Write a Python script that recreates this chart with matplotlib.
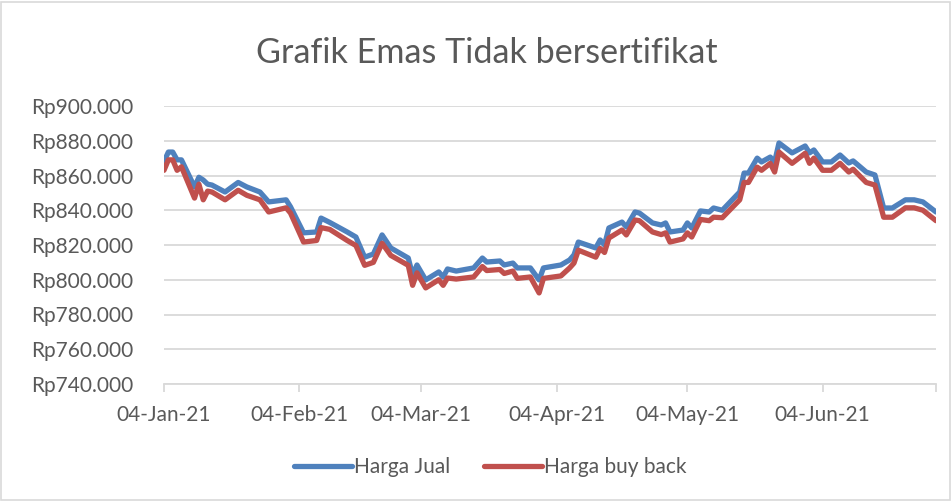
import matplotlib
matplotlib.use("Agg")
import matplotlib.pyplot as plt
import matplotlib.dates as mdates
import matplotlib.ticker as mticker
import pandas as pd
from matplotlib.patches import Rectangle

# data (Rupiah)
dates = [
    "2021-01-04", "2021-01-05", "2021-01-06", "2021-01-07", "2021-01-08",
    "2021-01-11", "2021-01-12", "2021-01-13", "2021-01-14", "2021-01-15",
    "2021-01-18", "2021-01-21", "2021-01-23", "2021-01-26", "2021-01-28",
    "2021-02-01", "2021-02-02", "2021-02-05", "2021-02-08", "2021-02-09",
    "2021-02-11", "2021-02-15", "2021-02-17", "2021-02-19", "2021-02-21",
    "2021-02-23", "2021-02-25", "2021-03-01", "2021-03-02", "2021-03-03",
    "2021-03-05", "2021-03-08", "2021-03-09", "2021-03-10", "2021-03-12",
    "2021-03-16", "2021-03-18", "2021-03-19", "2021-03-22", "2021-03-23",
    "2021-03-25", "2021-03-26", "2021-03-29", "2021-03-31", "2021-04-01",
    "2021-04-05", "2021-04-07", "2021-04-08", "2021-04-09", "2021-04-13",
    "2021-04-14", "2021-04-15", "2021-04-16", "2021-04-19", "2021-04-20",
    "2021-04-22", "2021-04-23", "2021-04-26", "2021-04-28", "2021-04-29",
    "2021-04-30", "2021-05-03", "2021-05-04", "2021-05-05", "2021-05-07",
    "2021-05-09", "2021-05-10", "2021-05-12", "2021-05-16", "2021-05-17",
    "2021-05-18", "2021-05-20", "2021-05-21", "2021-05-23", "2021-05-24",
    "2021-05-25", "2021-05-28", "2021-05-31", "2021-06-01", "2021-06-02",
    "2021-06-04", "2021-06-06", "2021-06-08", "2021-06-10", "2021-06-11",
    "2021-06-14", "2021-06-16", "2021-06-18", "2021-06-20", "2021-06-23",
    "2021-06-25", "2021-06-27", "2021-06-30",
]

harga_jual = [
    868000, 873500, 873500, 869000, 869000,
    853400, 859000, 857400, 855000, 854500,
    850500, 856000, 853400, 850500, 844800,
    846000, 842000, 827000, 827500, 835500,
    833000, 827500, 824600, 813000, 814800,
    825800, 818300, 812500, 802700, 808500,
    799900, 804500, 801600, 806200, 805000,
    806800, 812500, 810200, 810800, 808500,
    809600, 806800, 806800, 799900, 806800,
    808500, 811400, 814300, 821700, 818300,
    822900, 820000, 829800, 833200, 830400,
    839000, 838400, 832700, 831500, 832700,
    827500, 828600, 832700, 829800, 839600,
    839000, 841300, 840000, 850500, 861400,
    861400, 870000, 867800, 870600, 867800,
    878700, 873000, 877000, 873000, 874700,
    867800, 867800, 871800, 867200, 868400,
    862000, 860300, 841300, 841300, 846000,
    846000, 844800, 839000,
]

harga_buy_back = [
    863000, 869000, 869000, 863000, 865000,
    847000, 855000, 846000, 851000, 850500,
    846000, 851500, 848600, 846000, 839000,
    841400, 838400, 821700, 822600, 830000,
    829000, 822600, 819700, 808300, 810000,
    821000, 814000, 808300, 796800, 804000,
    795300, 800000, 796800, 801000, 800400,
    801600, 807600, 805300, 805900, 803600,
    805000, 800800, 801600, 792400, 800800,
    802200, 806800, 809600, 817000, 813000,
    818000, 815700, 824000, 828600, 825800,
    834400, 834000, 827500, 826000, 827000,
    821700, 823500, 827000, 824600, 834700,
    834000, 836000, 835700, 846000, 856000,
    856000, 864800, 863000, 867000, 862000,
    873500, 867000, 872800, 867000, 870000,
    863000, 863000, 867000, 862000, 863600,
    856000, 854500, 836000, 836000, 841400,
    841400, 840000, 834000,
]

series_names = ["Harga Jual", "Harga buy back"]
series_colors = ["#4F81BD", "#C0504D"]
title = "Grafik Emas Tidak bersertifikat"

FONT = ["Lato", "DejaVu Sans"]
TEXT_GREY = "#595959"
GRID_GREY = "#D9D9D9"
LABEL_SIZE = 15

x = pd.to_datetime(dates)

fig = plt.figure(figsize=(9.52, 5.01), dpi=100)
ax = fig.add_axes([164 / 952, 1 - 384 / 501, (936 - 164) / 952, (384 - 106) / 501])

for vals, name, col in zip([harga_jual, harga_buy_back], series_names, series_colors):
    ax.plot(x, vals, color=col, lw=3.8, label=name,
            solid_joinstyle="round", solid_capstyle="round")

ax.set_ylim(740000, 900000)
ax.yaxis.set_major_locator(mticker.MultipleLocator(20000))
ax.yaxis.set_major_formatter(mticker.FuncFormatter(
    lambda v, p: "Rp" + f"{v:,.0f}".replace(",", ".")))
ax.grid(axis="y", color=GRID_GREY, lw=1.3)
ax.set_axisbelow(True)

xmin, xmax = pd.Timestamp("2021-01-04"), pd.Timestamp("2021-06-30")
ax.set_xlim(xmin, xmax)
month_ticks = pd.date_range("2021-01-04", periods=6, freq=pd.DateOffset(months=1))
ax.set_xticks(month_ticks)
ax.xaxis.set_major_formatter(mdates.DateFormatter("%d-%b-%y"))
ax.set_xticks([mdates.date2num(xmax)], minor=True)

for s in ["left", "right", "top"]:
    ax.spines[s].set_visible(False)
ax.spines["bottom"].set_color(GRID_GREY)
ax.spines["bottom"].set_linewidth(1.3)
ax.tick_params(axis="y", length=0, pad=22, labelsize=LABEL_SIZE, labelcolor=TEXT_GREY)
ax.tick_params(axis="x", which="both", length=6, width=1.3, color=GRID_GREY,
               pad=9, labelsize=LABEL_SIZE, labelcolor=TEXT_GREY)
for lab in ax.get_xticklabels() + ax.get_yticklabels():
    lab.set_family(FONT)

fig.text(487 / 952, 1 - 53 / 501, title, ha="center", va="center",
         fontsize=24.6, color=TEXT_GREY, family=FONT)

leg = fig.legend(loc="center", bbox_to_anchor=(0.515, 1 - 467 / 501), ncol=2,
                 frameon=False, handlelength=2.8, handletextpad=0.1,
                 columnspacing=1.6, prop={"family": FONT, "size": LABEL_SIZE})
for t in leg.get_texts():
    t.set_color(TEXT_GREY)

# chart area border
fig.patches.append(Rectangle((0.001, 0.002), 0.997, 0.995, transform=fig.transFigure,
                             fill=False, edgecolor=GRID_GREY, lw=1.2))

fig.savefig("out.png", dpi=100)
